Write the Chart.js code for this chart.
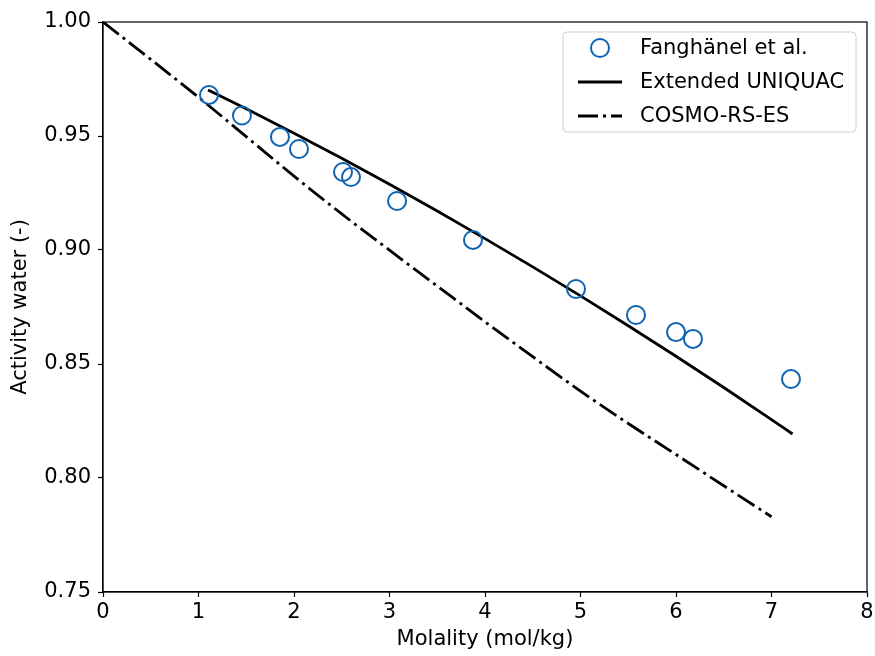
<!DOCTYPE html>
<html>
<head>
<meta charset="utf-8">
<script src="https://cdn.jsdelivr.net/npm/chart.js@4.4.0/dist/chart.umd.min.js"></script>
<style>
  html, body { margin: 0; padding: 0; background: #fff; }
</style>
</head>
<body>
<canvas id="chart" width="875" height="656"></canvas>
<script>
// Fanghänel et al. (measured)
var expMolality = [1.11, 1.455, 1.853, 2.052, 2.513, 2.597, 3.079, 3.874, 4.953, 5.581, 6.0, 6.178, 7.204];
var expActivity = [0.968, 0.959, 0.9496, 0.9443, 0.9342, 0.932, 0.9215, 0.9044, 0.8829, 0.8715, 0.864, 0.861, 0.8434];

// Extended UNIQUAC
var uniqMolality = [1.1, 1.5, 2.0, 2.5, 3.0, 3.5, 4.0, 4.5, 5.0, 5.5, 6.0, 6.5, 7.0, 7.22];
var uniqActivity = [0.9702, 0.9619, 0.9512, 0.9402, 0.9288, 0.9171, 0.9050, 0.8926, 0.8799, 0.8668, 0.8534, 0.8397, 0.8256, 0.8193];

// COSMO-RS-ES
var cosmoMolality = [0, 0.5, 1.0, 1.5, 2.0, 2.5, 3.0, 3.5, 4.0, 4.5, 5.0, 5.5, 6.0, 6.5, 7.0];
var cosmoActivity = [1.000, 0.9836, 0.967, 0.9497, 0.9324, 0.9158, 0.8999, 0.8842, 0.8685, 0.8532, 0.8381, 0.8239, 0.8103, 0.7966, 0.783];

var xTicks = [0, 1, 2, 3, 4, 5, 6, 7, 8];
var yTicks = [0.75, 0.80, 0.85, 0.90, 0.95, 1.00];

function toPoints(xs, ys) {
    return xs.map(function (x, i) { return {x: x, y: ys[i]}; });
}

var markerBlue = "#0e64b0";
var dashDot = [20, 5, 3, 5];

Chart.defaults.font.family = "'DejaVu Sans', sans-serif";
Chart.defaults.font.size = 21;
Chart.defaults.color = "#000";

// top/right spines
var frame = {
    id: "frame",
    afterDatasetsDraw: function (chart) {
        var a = chart.chartArea, ctx = chart.ctx;
        ctx.save();
        ctx.strokeStyle = "#000";
        ctx.lineWidth = 1.2;
        ctx.strokeRect(a.left, a.top, a.right - a.left, a.bottom - a.top);
        ctx.restore();
    }
};

// matplotlib-like legend in the upper right corner
var boxLegend = {
    id: "boxLegend",
    afterDraw: function (chart) {
        var a = chart.chartArea, ctx = chart.ctx;
        var w = 293, h = 100;
        var x0 = a.right - 11 - w, y0 = a.top + 10;
        ctx.save();
        ctx.beginPath();
        ctx.roundRect(x0, y0, w, h, 4);
        ctx.fillStyle = "rgba(255,255,255,0.8)";
        ctx.fill();
        ctx.strokeStyle = "#d0d0d0";
        ctx.lineWidth = 1;
        ctx.stroke();

        ctx.font = "21px 'DejaVu Sans', sans-serif";
        ctx.textBaseline = "middle";
        ctx.fillStyle = "#000";
        chart.data.datasets.forEach(function (ds, i) {
            var cy = y0 + 16 + i * 34;
            if (ds.showLine) {
                ctx.beginPath();
                ctx.setLineDash(ds.borderDash || []);
                ctx.strokeStyle = ds.borderColor;
                ctx.lineWidth = ds.borderWidth;
                ctx.moveTo(x0 + 15, cy);
                ctx.lineTo(x0 + 59, cy);
                ctx.stroke();
                ctx.setLineDash([]);
            } else {
                ctx.beginPath();
                ctx.arc(x0 + 37, cy, ds.pointRadius, 0, Math.PI * 2);
                ctx.strokeStyle = ds.borderColor;
                ctx.lineWidth = ds.borderWidth;
                ctx.stroke();
            }
            ctx.fillText(ds.label, x0 + 77, cy + 1);
        });
        ctx.restore();
    }
};

new Chart(document.getElementById("chart"), {
    type: "scatter",
    data: {
        datasets: [
            {
                label: "Fanghänel et al.",
                data: toPoints(expMolality, expActivity),
                showLine: false,
                pointStyle: "circle",
                pointRadius: 9,
                pointHoverRadius: 9,
                borderWidth: 2,
                borderColor: markerBlue,
                backgroundColor: "rgba(0,0,0,0)"
            },
            {
                label: "Extended UNIQUAC",
                data: toPoints(uniqMolality, uniqActivity),
                showLine: true,
                pointRadius: 0,
                borderColor: "#000",
                borderWidth: 2.8,
                cubicInterpolationMode: "monotone",
                order: 1
            },
            {
                label: "COSMO-RS-ES",
                data: toPoints(cosmoMolality, cosmoActivity),
                showLine: true,
                pointRadius: 0,
                borderColor: "#000",
                borderWidth: 2.8,
                borderDash: dashDot,
                cubicInterpolationMode: "monotone",
                order: 2
            }
        ]
    },
    options: {
        responsive: false,
        animation: false,
        devicePixelRatio: 1,
        layout: {autoPadding: false, padding: {top: 22, right: 8, left: 0, bottom: 0}},
        plugins: {
            legend: {display: false},
            tooltip: {enabled: false}
        },
        scales: {
            x: {
                type: "linear",
                min: 0,
                max: 8,
                afterBuildTicks: function (s) { s.ticks = xTicks.map(function (v) { return {value: v}; }); },
                afterFit: function (s) { s.height = 64; s.paddingLeft = 0; s.paddingRight = 0; },
                ticks: {padding: 3, color: "#000", callback: function (v) { return v; }},
                grid: {drawOnChartArea: false, drawTicks: true, tickLength: 5, color: "#000", tickWidth: 1.2},
                border: {display: true, color: "#000", width: 1.2},
                title: {display: true, text: "Molality (mol/kg)", color: "#000", padding: {top: 0, bottom: 4}}
            },
            y: {
                type: "linear",
                min: 0.75,
                max: 1.0,
                afterBuildTicks: function (s) { s.ticks = yTicks.map(function (v) { return {value: v}; }); },
                afterFit: function (s) { s.width = 103; s.paddingTop = 0; s.paddingBottom = 0; },
                ticks: {padding: 7, color: "#000", callback: function (v) { return v.toFixed(2); }},
                grid: {drawOnChartArea: false, drawTicks: true, tickLength: 5, color: "#000", tickWidth: 1.2},
                border: {display: true, color: "#000", width: 1.2},
                title: {display: true, text: "Activity water (-)", color: "#000", padding: {top: 8, bottom: 0}}
            }
        }
    },
    plugins: [frame, boxLegend]
});
</script>
</body>
</html>
